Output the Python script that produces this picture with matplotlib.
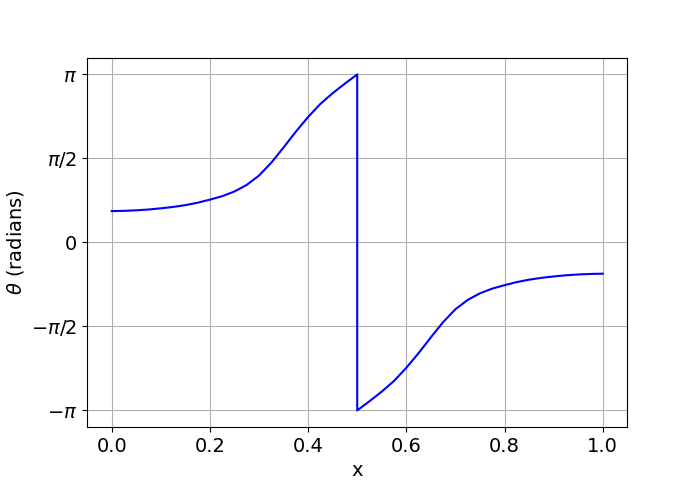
import numpy as np
import matplotlib
matplotlib.use("Agg")
import matplotlib.pyplot as plt

x_left = [0.0, 0.025, 0.05, 0.075, 0.1, 0.125, 0.15, 0.175, 0.2, 0.225, 0.25,
          0.275, 0.3, 0.325, 0.35, 0.375, 0.4, 0.425, 0.45, 0.475, 0.5]
theta_left = [0.585, 0.590, 0.600, 0.615, 0.637, 0.663, 0.697, 0.742, 0.800, 0.864,
              0.952, 1.075, 1.250, 1.490, 1.775, 2.070, 2.345, 2.590, 2.790, 2.970,
              np.pi]

x_right = [0.5, 0.525, 0.55, 0.575, 0.6, 0.625, 0.65, 0.675, 0.7, 0.725, 0.75,
           0.775, 0.8, 0.825, 0.85, 0.875, 0.9, 0.925, 0.95, 0.975, 1.0]
theta_right = [-np.pi, -2.970, -2.790, -2.590, -2.345, -2.070, -1.775, -1.490,
               -1.250, -1.075, -0.952, -0.864, -0.800, -0.742, -0.697, -0.663,
               -0.637, -0.615, -0.600, -0.590, -0.585]

ytick_vals = [-np.pi, -np.pi / 2, 0, np.pi / 2, np.pi]
ytick_labels = [r"$-\pi$", r"$-\pi/2$", "0", r"$\pi/2$", r"$\pi$"]

x = x_left + x_right
theta = theta_left + theta_right

fig, ax = plt.subplots(figsize=(6.97, 4.8), dpi=100)
ax.plot(x, theta, color="blue", linewidth=1.5)
ax.set_yticks(ytick_vals)
ax.set_yticklabels(ytick_labels)
ax.tick_params(labelsize=14)
ax.set_xlabel("x", fontsize=14)
ax.set_ylabel(r"$\theta$ (radians)", fontsize=14)
ax.grid(True)
fig.savefig("out.png", dpi=100)
